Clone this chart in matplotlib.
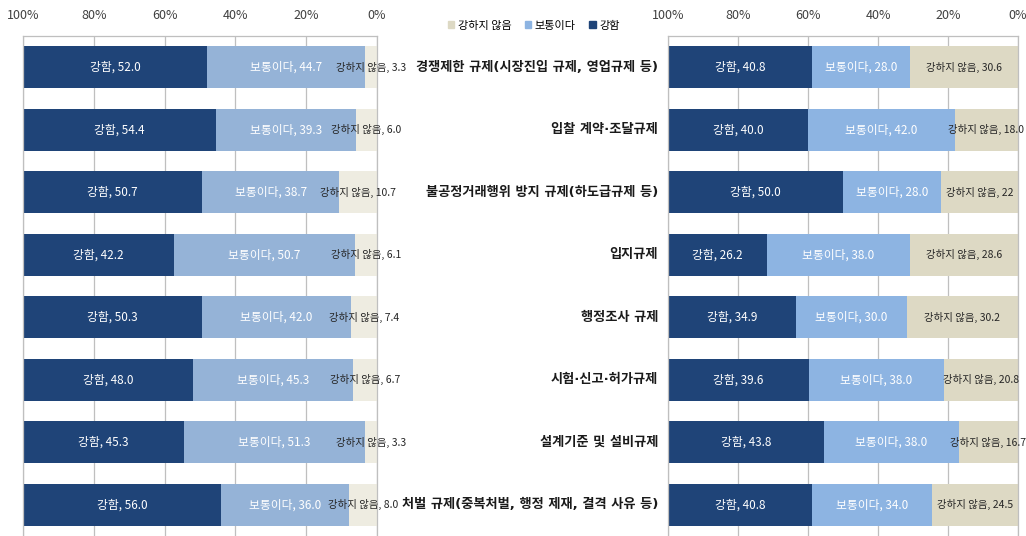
import matplotlib
matplotlib.use('Agg')
import matplotlib.pyplot as plt
from matplotlib.patches import Patch
from matplotlib.transforms import blended_transform_factory
import numpy as np

plt.rcParams['font.family'] = ['Noto Sans CJK KR', 'DejaVu Sans']

categories = [
    '경쟁제한 규제(시장진입 규제, 영업규제 등)',
    '입찰 계약·조달규제',
    '불공정거래행위 방지 규제(하도급규제 등)',
    '입지규제',
    '행정조사 규제',
    '시험·신고·허가규제',
    '설계기준 및 설비규제',
    '처벌 규제(중복처벌, 행정 제재, 결격 사유 등)',
]
series_names = ['강하지 않음', '보통이다', '강함']

# left chart
left_strong = [52.0, 54.4, 50.7, 42.2, 50.3, 48.0, 45.3, 56.0]
left_normal = [44.7, 39.3, 38.7, 50.7, 42.0, 45.3, 51.3, 36.0]
left_weak = [3.3, 6.0, 10.7, 6.1, 7.4, 6.7, 3.3, 8.0]

# right chart
right_strong = [40.8, 40.0, 50.0, 26.2, 34.9, 39.6, 43.8, 40.8]
right_normal = [28.0, 42.0, 28.0, 38.0, 30.0, 38.0, 38.0, 34.0]
right_weak = [30.6, 18.0, 22, 28.6, 30.2, 20.8, 16.7, 24.5]

navy = '#1f4478'
left_colors = {'weak': '#eeece1', 'normal': '#95b3d7', 'strong': navy}
right_colors = {'weak': '#ddd9c4', 'normal': '#8db4e2', 'strong': navy}

fig = plt.figure(figsize=(10.26, 5.36), dpi=100)
ax_l = fig.add_axes([23 / 1026, 0.0, 354 / 1026, 1 - 36 / 536])
ax_r = fig.add_axes([668 / 1026, 0.0, 350 / 1026, 1 - 36 / 536])


def draw_panel(ax, strong, normal, weak, colors):
    strong = np.array(strong, dtype=float)
    normal = np.array(normal, dtype=float)
    weak_v = np.array(weak, dtype=float)
    total = strong + normal + weak_v
    # 100% stacked: each row scaled to its own total
    s_w = weak_v / total * 100
    s_n = normal / total * 100
    s_s = strong / total * 100
    y = np.arange(len(strong))
    h = 0.67
    ax.barh(y, s_w, height=h, color=colors['weak'], zorder=2)
    ax.barh(y, s_n, left=s_w, height=h, color=colors['normal'], zorder=2)
    ax.barh(y, s_s, left=s_w + s_n, height=h, color=colors['strong'], zorder=2)

    for i in range(len(y)):
        ax.text(s_w[i] / 2, i, f'강하지 않음, {weak[i]}', ha='center', va='center',
                fontsize=7.5, color='#262626', zorder=3, clip_on=False)
        ax.text(s_w[i] + s_n[i] / 2, i, f'보통이다, {normal[i]}', ha='center',
                va='center', fontsize=8.5, color='white', zorder=3)
        ax.text(s_w[i] + s_n[i] + s_s[i] / 2, i, f'강함, {strong[i]}', ha='center',
                va='center', fontsize=8.5, color='white', zorder=3)

    ax.set_xlim(100, 0)
    ax.set_ylim(len(y) - 0.5, -0.5)
    ax.set_xticks([100, 80, 60, 40, 20, 0])
    ax.set_xticklabels(['100%', '80%', '60%', '40%', '20%', '0%'])
    ax.xaxis.tick_top()
    ax.tick_params(axis='x', length=0, labelsize=9, labelcolor='#404040', pad=10)
    ax.set_yticks([])
    ax.grid(axis='x', color='#bfbfbf', linewidth=0.9, zorder=0)
    ax.spines['bottom'].set_visible(False)
    for side in ['left', 'right', 'top']:
        ax.spines[side].set_color('#bfbfbf')
        ax.spines[side].set_linewidth(0.9)


draw_panel(ax_l, left_strong, left_normal, left_weak, left_colors)
draw_panel(ax_r, right_strong, right_normal, right_weak, right_colors)

# category names between the two charts
trans = blended_transform_factory(ax_r.transAxes, ax_r.transData)
for i, name in enumerate(categories):
    ax_r.text(-0.028, i, name, transform=trans, ha='right', va='center',
              fontsize=9.5, fontweight='bold', color='#1a1a1a',
              family=['DejaVu Sans', 'Noto Sans CJK KR'])

handles = [Patch(color=right_colors['weak']), Patch(color=right_colors['normal']),
           Patch(color=navy)]
fig.legend(handles, series_names, loc='center', bbox_to_anchor=(0.52, 0.952),
           ncol=3, frameon=False, fontsize=8, handlelength=0.6, handleheight=0.6,
           handletextpad=0.3, columnspacing=1.2)

fig.savefig('out.png', dpi=100)
plt.close(fig)
